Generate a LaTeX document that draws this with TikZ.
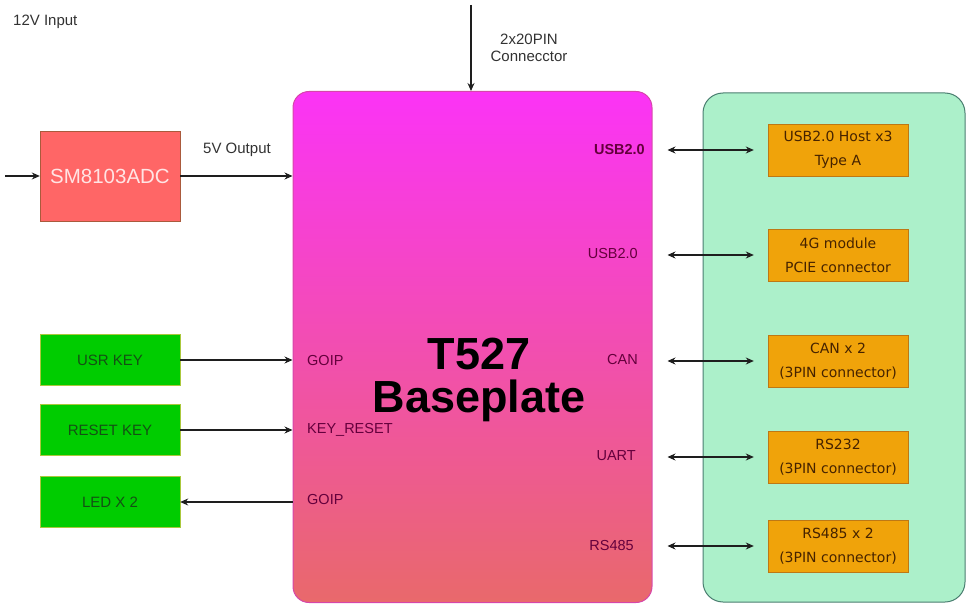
\documentclass[tikz,border=0pt]{standalone}
\usepackage{fontspec}
\setmainfont{Liberation Sans}
\newfontfamily\portfamily{DejaVu Sans}
\usepackage{xcolor}
\usepackage{tikz}
\usetikzlibrary{arrows.meta, positioning}

\definecolor{boardtop}{RGB}{251,51,246}
\definecolor{boardbot}{RGB}{233,105,107}
\definecolor{boardline}{RGB}{214,70,170}
\definecolor{pinfont}{RGB}{100,0,60}
\definecolor{modfill}{RGB}{172,240,202}
\definecolor{modline}{RGB}{74,126,112}
\definecolor{portfill}{RGB}{240,163,10}
\definecolor{portline}{RGB}{190,120,20}
\definecolor{portfont}{RGB}{70,35,0}
\definecolor{keyfill}{RGB}{0,204,0}
\definecolor{keyline}{RGB}{170,200,60}
\definecolor{keyfont}{RGB}{20,80,20}
\definecolor{adcfill}{RGB}{255,102,102}
\definecolor{adcline}{RGB}{170,90,60}
\definecolor{adcfont}{RGB}{255,228,228}
\definecolor{wire}{RGB}{30,30,30}
\definecolor{note}{RGB}{50,50,50}

\begin{document}
\begin{tikzpicture}[
  x=1pt, y=-1pt,
  every node/.style={inner sep=2pt},
  board/.style={draw=boardline, line width=1pt, rounded corners=16pt, top color=boardtop, bottom color=boardbot, minimum width=359pt, minimum height=511pt},
  modarea/.style={draw=modline, fill=modfill, line width=1pt, rounded corners=20pt, minimum width=262pt, minimum height=509pt},
  port/.style={draw=portline, fill=portfill, minimum width=140pt, minimum height=52pt, align=center, font=\portfamily\fontsize{14}{24}\selectfont, text=portfont},
  key/.style={draw=keyline, fill=keyfill, minimum width=140pt, minimum height=51pt, font=\fontsize{15}{17}\selectfont, text=keyfont},
  adc/.style={draw=adcline, fill=adcfill, minimum width=140pt, minimum height=90pt, font=\fontsize{20.5}{24}\selectfont, text=adcfont},
  label/.style={font=\fontsize{15}{17}\selectfont, text=note, align=center},
  pin/.style={font=\fontsize{14.5}{17}\selectfont, text=pinfont},
  arr/.style={draw=wire, line width=1.1pt, -{Stealth[length=8pt,width=7pt]}},
  dbl/.style={draw=wire, line width=1.1pt, {Stealth[length=8pt,width=7pt]}-{Stealth[length=8pt,width=7pt]}}
]
\useasboundingbox (0,0) rectangle (966,604);

% main board and module area
\node[board] (board) at (472.5,347) {};
\node[modarea] (mods) at (834,347.5) {};
\node[font=\fontsize{45}{43}\selectfont\bfseries, align=center] (name) at (479,380) {T527\\Baseplate};

% power
\coordinate (vin) at (5,176);
\node[label, anchor=west] (vinlabel) at (11,22) {12V Input};
\node[adc] (adc) at (110,176) {SM8103ADC};
\node[label] (voutlabel) at (237,150) {5V Output};

% header
\coordinate (hdr) at (471,5);
\node[label] (hdrlabel) at (529,48) {2x20PIN\\Connecctor};

% keys and leds
\node[key] (usr) at (110,360) {USR KEY};
\node[key] (rst) at (110,430) {RESET KEY};
\node[key] (led) at (110,502) {LED X 2};

\node[pin, anchor=west] (gpin1) at (305,361) {GOIP};
\node[pin, anchor=west] (rpin) at (305,430) {KEY\_RESET};
\node[pin, anchor=west] (gpin2) at (305,500) {GOIP};

% ports
\node[port] (usb) at (838,150) {USB2.0 Host x3\\Type A};
\node[port] (lte) at (838,255) {4G module\\PCIE connector};
\node[port] (can) at (838,361) {CAN x 2\\(3PIN connector)};
\node[port] (uart) at (838,457) {RS232\\(3PIN connector)};
\node[port] (rsf) at (838,546) {RS485 x 2\\(3PIN connector)};

\node[pin, anchor=east, font=\fontsize{14.5}{17}\selectfont\bfseries] (upin1) at (647,150) {USB2.0};
\node[pin, anchor=east] (upin2) at (640,254) {USB2.0};
\node[pin, anchor=east] (cpin) at (640,360) {CAN};
\node[pin, anchor=east] (tpin) at (638,456) {UART};
\node[pin, anchor=east] (spin) at (636,546) {RS485};

% connections
\draw[arr] (vin) -- (adc.west);
\draw[arr] (adc.east) -- (adc.east -| board.west);
\draw[arr] (hdr) -- (hdr |- board.north);
\draw[arr] (usr.east) -- (usr.east -| board.west);
\draw[arr] (rst.east) -- (rst.east -| board.west);
\draw[arr] (led.east -| board.west) -- (led.east);

\foreach \p in {usb,lte,can,uart,rsf}
  \draw[dbl, shorten <=15pt, shorten >=14pt] (\p.west -| board.east) -- (\p.west);

\end{tikzpicture}
\end{document}
